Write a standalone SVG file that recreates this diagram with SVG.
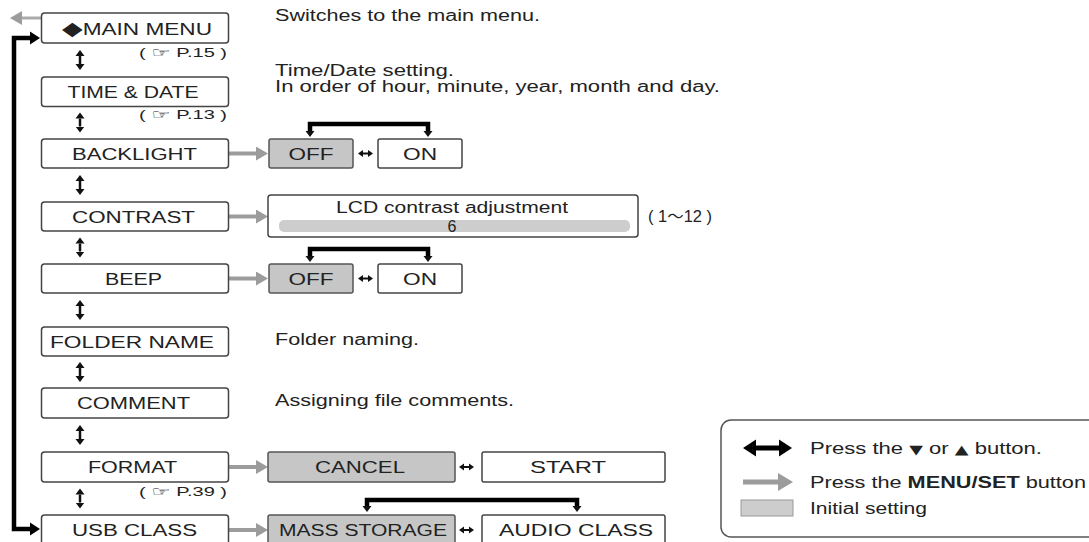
<svg xmlns="http://www.w3.org/2000/svg" width="1089" height="542" viewBox="0 0 1089 542">
<style>
text{font-family:"Liberation Sans",Arial,"DejaVu Sans","Noto Sans CJK JP",sans-serif;fill:#222;}
.lbl{font-size:16px;text-anchor:middle;}
.desc{font-size:16px;}
.ref{font-size:12px;}
.sym{font-family:"DejaVu Sans",sans-serif;}
.box{fill:#fff;stroke:#444;stroke-width:1.5;}
.gbox{fill:#c6c6c6;stroke:#555;stroke-width:1.5;}
.garrow{stroke:#9c9c9c;stroke-width:4;fill:none;}
.vdbl{stroke:#111;stroke-width:2.5;fill:none;}
.thick{stroke:#000;stroke-width:4.5;fill:none;}
.sdbl{stroke:#111;stroke-width:2;fill:none;}
</style>
<defs>
<marker id="ga" markerUnits="userSpaceOnUse" markerWidth="12" markerHeight="14" refX="0" refY="7" orient="auto"><path d="M0,0 L12,7 L0,14 z" fill="#9c9c9c"/></marker>
<marker id="gal" markerUnits="userSpaceOnUse" markerWidth="16" markerHeight="18" refX="0" refY="9" orient="auto"><path d="M0,0 L15,9 L0,18 z" fill="#9c9c9c"/></marker>
<marker id="bv" markerUnits="userSpaceOnUse" markerWidth="10" markerHeight="10" refX="0" refY="5" orient="auto-start-reverse"><path d="M0,0.5 L6,5 L0,9.5 z" fill="#111"/></marker>
<marker id="bt" markerUnits="userSpaceOnUse" markerWidth="12" markerHeight="14" refX="0" refY="7" orient="auto-start-reverse"><path d="M0,0.5 L10,7 L0,13.5 z" fill="#000"/></marker>
<marker id="bs" markerUnits="userSpaceOnUse" markerWidth="6" markerHeight="8" refX="0" refY="4" orient="auto-start-reverse"><path d="M0,0.5 L5,4 L0,7.5 z" fill="#111"/></marker>
<marker id="bl" markerUnits="userSpaceOnUse" markerWidth="14" markerHeight="18" refX="0" refY="9" orient="auto-start-reverse"><path d="M0,0.5 L13,9 L0,17.5 z" fill="#000"/></marker>
</defs>

<g id="connectors">
  <line x1="41" y1="18" x2="22" y2="18" stroke="#aaa" stroke-width="3" marker-end="url(#ga)"/>
  <path class="thick" d="M30,38 H14 V529 H30" marker-start="url(#bt)" marker-end="url(#bt)"/>
  <line class="vdbl" x1="80" y1="56" x2="80" y2="64" marker-start="url(#bv)" marker-end="url(#bv)"/>
  <line class="vdbl" x1="80" y1="118.5" x2="80" y2="126.5" marker-start="url(#bv)" marker-end="url(#bv)"/>
  <line class="vdbl" x1="80" y1="181" x2="80" y2="189" marker-start="url(#bv)" marker-end="url(#bv)"/>
  <line class="vdbl" x1="80" y1="243.5" x2="80" y2="251.5" marker-start="url(#bv)" marker-end="url(#bv)"/>
  <line class="vdbl" x1="80" y1="306" x2="80" y2="314" marker-start="url(#bv)" marker-end="url(#bv)"/>
  <line class="vdbl" x1="80" y1="368" x2="80" y2="376" marker-start="url(#bv)" marker-end="url(#bv)"/>
  <line class="vdbl" x1="80" y1="431" x2="80" y2="439" marker-start="url(#bv)" marker-end="url(#bv)"/>
  <line class="vdbl" x1="80" y1="494.5" x2="80" y2="502.5" marker-start="url(#bv)" marker-end="url(#bv)"/>
  <line class="garrow" x1="229" y1="153.5" x2="256" y2="153.5" marker-end="url(#ga)"/>
  <line class="garrow" x1="229" y1="216.5" x2="256" y2="216.5" marker-end="url(#ga)"/>
  <line class="garrow" x1="229" y1="278.5" x2="256" y2="278.5" marker-end="url(#ga)"/>
  <line class="garrow" x1="229" y1="467" x2="256" y2="467" marker-end="url(#ga)"/>
  <line class="garrow" x1="229" y1="530" x2="256" y2="530" marker-end="url(#ga)"/>
  <path class="thick" d="M310,131 V124 H428 V131" stroke-width="4" marker-start="url(#bv)" marker-end="url(#bv)"/>
  <path class="thick" d="M310,256 V249 H428 V256" stroke-width="4" marker-start="url(#bv)" marker-end="url(#bv)"/>
  <path class="thick" d="M367,506 V500 H577 V506" stroke-width="4" marker-start="url(#bv)" marker-end="url(#bv)"/>
  <line class="sdbl" x1="363" y1="153.5" x2="368" y2="153.5" marker-start="url(#bs)" marker-end="url(#bs)"/>
  <line class="sdbl" x1="363" y1="278.5" x2="368" y2="278.5" marker-start="url(#bs)" marker-end="url(#bs)"/>
  <line class="sdbl" x1="464" y1="467" x2="469" y2="467" marker-start="url(#bs)" marker-end="url(#bs)"/>
  <line class="sdbl" x1="464" y1="530" x2="469" y2="530" marker-start="url(#bs)" marker-end="url(#bs)"/>
</g>

<g id="main-menu">
  <rect class="box" x="41.5" y="13" width="187" height="30" rx="3"/>
  <text class="lbl" x="137" y="34.5" textLength="150" lengthAdjust="spacingAndGlyphs"><tspan class="sym" font-size="19">◆</tspan>MAIN MENU</text>
  <text class="ref" x="139" y="57" textLength="88" lengthAdjust="spacingAndGlyphs">( <tspan class="sym" font-size="13">☞</tspan> P.15 )</text>
  <text class="desc" x="275" y="21" textLength="265" lengthAdjust="spacingAndGlyphs">Switches to the main menu.</text>
</g>
<g id="time-date">
  <rect class="box" x="41.5" y="77" width="187" height="29.5" rx="3"/>
  <text class="lbl" x="133" y="97.5" textLength="131" lengthAdjust="spacingAndGlyphs">TIME &amp; DATE</text>
  <text class="ref" x="139" y="119" textLength="88" lengthAdjust="spacingAndGlyphs">( <tspan class="sym" font-size="13">☞</tspan> P.13 )</text>
  <text class="desc" x="275" y="76" textLength="179" lengthAdjust="spacingAndGlyphs">Time/Date setting.</text>
  <text class="desc" x="275" y="92" textLength="445" lengthAdjust="spacingAndGlyphs">In order of hour, minute, year, month and day.</text>
</g>
<g id="backlight">
  <rect class="box" x="41.5" y="139" width="187" height="29" rx="3"/>
  <text class="lbl" x="134.5" y="159.5" textLength="125" lengthAdjust="spacingAndGlyphs">BACKLIGHT</text>
  <rect class="gbox" x="269" y="139" width="84" height="29" rx="2"/>
  <text class="lbl" x="311" y="159.5" textLength="45" lengthAdjust="spacingAndGlyphs">OFF</text>
  <rect class="box" x="378" y="139" width="84" height="29" rx="2"/>
  <text class="lbl" x="420" y="159.5" textLength="34" lengthAdjust="spacingAndGlyphs">ON</text>
</g>
<g id="contrast">
  <rect class="box" x="41.5" y="202" width="187" height="29" rx="3"/>
  <text class="lbl" x="133.5" y="222.5" textLength="123" lengthAdjust="spacingAndGlyphs">CONTRAST</text>
  <rect class="box" x="268" y="195" width="370" height="42" rx="3"/>
  <text class="lbl" x="452" y="213" textLength="232" lengthAdjust="spacingAndGlyphs">LCD contrast adjustment</text>
  <rect x="279" y="220" width="351" height="12" rx="5" fill="#cdcdcd"/>
  <text class="lbl" x="452" y="232" font-size="15">6</text>
  <text class="desc" x="648" y="222" textLength="64" lengthAdjust="spacingAndGlyphs">( 1～12 )</text>
</g>
<g id="beep">
  <rect class="box" x="41.5" y="264" width="187" height="29" rx="3"/>
  <text class="lbl" x="133.5" y="284.5" textLength="57" lengthAdjust="spacingAndGlyphs">BEEP</text>
  <rect class="gbox" x="269" y="264" width="84" height="29" rx="2"/>
  <text class="lbl" x="311" y="284.5" textLength="45" lengthAdjust="spacingAndGlyphs">OFF</text>
  <rect class="box" x="378" y="264" width="84" height="29" rx="2"/>
  <text class="lbl" x="420" y="284.5" textLength="34" lengthAdjust="spacingAndGlyphs">ON</text>
</g>
<g id="folder-name">
  <rect class="box" x="41.5" y="327" width="187" height="29" rx="3"/>
  <text class="lbl" x="132" y="347.5" textLength="164" lengthAdjust="spacingAndGlyphs">FOLDER NAME</text>
  <text class="desc" x="275" y="345" textLength="144" lengthAdjust="spacingAndGlyphs">Folder naming.</text>
</g>
<g id="comment">
  <rect class="box" x="41.5" y="388" width="187" height="30" rx="3"/>
  <text class="lbl" x="133.5" y="409" textLength="113" lengthAdjust="spacingAndGlyphs">COMMENT</text>
  <text class="desc" x="275" y="406" textLength="239" lengthAdjust="spacingAndGlyphs">Assigning file comments.</text>
</g>
<g id="format">
  <rect class="box" x="41.5" y="452" width="187" height="30" rx="3"/>
  <text class="lbl" x="132.5" y="473" textLength="89" lengthAdjust="spacingAndGlyphs">FORMAT</text>
  <text class="ref" x="139" y="496" textLength="88" lengthAdjust="spacingAndGlyphs">( <tspan class="sym" font-size="13">☞</tspan> P.39 )</text>
  <rect class="gbox" x="268" y="452" width="187" height="30" rx="2"/>
  <text class="lbl" x="360" y="473" textLength="90" lengthAdjust="spacingAndGlyphs">CANCEL</text>
  <rect class="box" x="482" y="452" width="183" height="30" rx="2"/>
  <text class="lbl" x="568" y="473" textLength="76" lengthAdjust="spacingAndGlyphs">START</text>
</g>
<g id="usb-class">
  <rect class="box" x="41.5" y="515" width="187" height="30" rx="3"/>
  <text class="lbl" x="134.5" y="535.5" textLength="125" lengthAdjust="spacingAndGlyphs">USB CLASS</text>
  <rect class="gbox" x="268" y="515" width="187" height="30" rx="2"/>
  <text class="lbl" x="363" y="535.5" textLength="168" lengthAdjust="spacingAndGlyphs">MASS STORAGE</text>
  <rect class="box" x="482" y="515" width="183" height="30" rx="2"/>
  <text class="lbl" x="576" y="535.5" textLength="154" lengthAdjust="spacingAndGlyphs">AUDIO CLASS</text>
</g>
<g id="legend">
  <rect x="721" y="420" width="420" height="117" rx="10" fill="#fff" stroke="#555" stroke-width="1.5"/>
  <line x1="756" y1="448" x2="779" y2="448" stroke="#000" stroke-width="5" marker-start="url(#bl)" marker-end="url(#bl)"/>
  <text class="desc" x="810" y="454" textLength="232" lengthAdjust="spacingAndGlyphs">Press the <tspan class="sym" font-size="13">▼</tspan> or <tspan class="sym" font-size="13">▲</tspan> button.</text>
  <line x1="743" y1="482" x2="778" y2="482" stroke="#9c9c9c" stroke-width="5" marker-end="url(#gal)"/>
  <text class="desc" x="810" y="488" textLength="276" lengthAdjust="spacingAndGlyphs">Press the <tspan font-weight="bold">MENU/SET</tspan> button</text>
  <rect x="741" y="500" width="52" height="16" fill="#cdcdcd" stroke="#999" stroke-width="1"/>
  <text class="desc" x="810" y="514" textLength="117" lengthAdjust="spacingAndGlyphs">Initial setting</text>
</g>
</svg>
